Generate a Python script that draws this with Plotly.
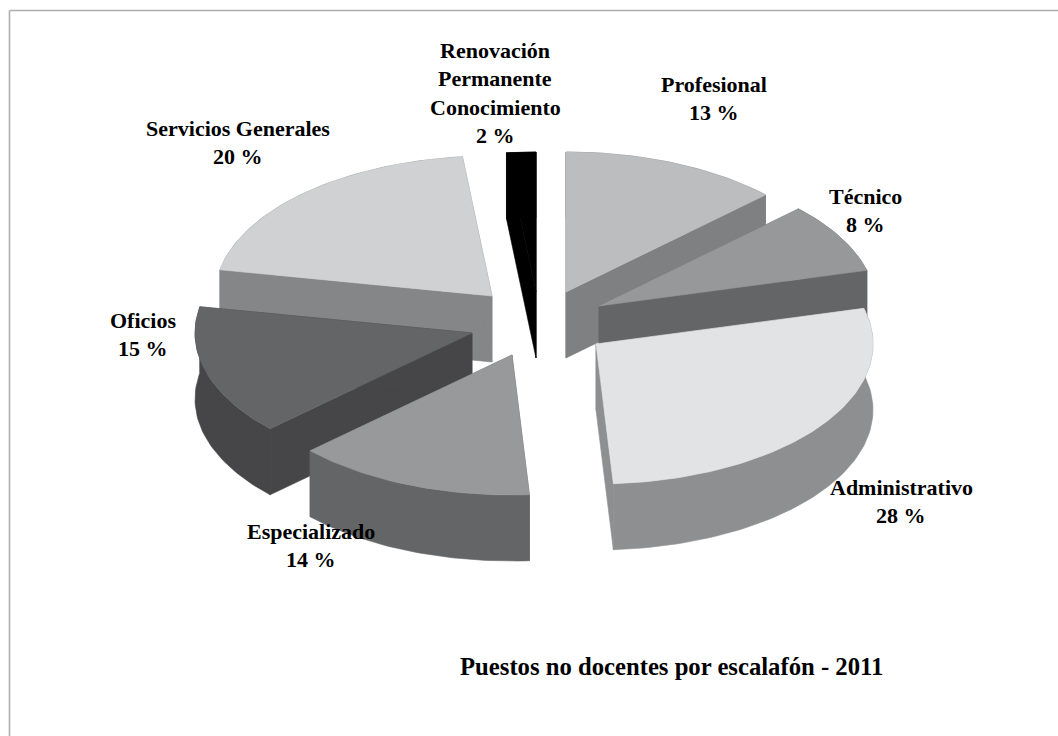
import math
import plotly.graph_objects as go

categories = ["Profesional", "Técnico", "Administrativo", "Especializado",
              "Oficios", "Servicios Generales", "Renovación Permanente Conocimiento"]
shares = [12.8, 8.1, 28.1, 14.0, 15.0, 20.3, 1.7]
label_lines = [["Profesional"], ["Técnico"], ["Administrativo"], ["Especializado"],
               ["Oficios"], ["Servicios Generales"], ["Renovación", "Permanente", "Conocimiento"]]
title_text = "Puestos no docentes por escalafón - 2011"

top_colors = ["#bcbdbf", "#97989a", "#e2e3e5", "#98999b", "#646567", "#d0d1d3", "#000000"]
side_colors = ["#7f8081", "#646566", "#8e8f91", "#646566", "#464648", "#858688", "#000000"]

# pie geometry, in the 1058x736 frame
RX, RY, DEPTH = 277, 140, 66
CENTER = (536, 322)
explode = [(30, -30), (63, -16), (60, 22), (-24, 33), (-64, 11), (-44, -26), (0, -30)]
label_pos = [(714, 84), (865, 196), (901, 487), (311, 531), (143, 320), (238, 128), (495, 50)]
draw_order = [5, 6, 0, 1, 4, 3, 2]
FONT = "Liberation Serif"
LINE = 28.5


def poly(fig, xs, ys, color):
    fig.add_trace(go.Scatter(x=xs, y=ys, mode="lines", fill="toself", fillcolor=color,
                             line=dict(color=color, width=0.6), hoverinfo="skip",
                             showlegend=False))


fig = go.Figure()
total = sum(shares)
starts = [sum(shares[:i]) / total * 2 * math.pi for i in range(len(shares))]
ends = [sum(shares[:i + 1]) / total * 2 * math.pi for i in range(len(shares))]

for i in draw_order:
    ax, ay = CENTER[0] + explode[i][0], CENTER[1] + explode[i][1]
    n = max(6, int(shares[i] * 3))
    th = [starts[i] + (ends[i] - starts[i]) * k / n for k in range(n + 1)]
    ex = [ax + RX * math.sin(t) for t in th]
    ey = [ay - RY * math.cos(t) for t in th]
    # two cut faces
    for k in (0, -1):
        poly(fig, [ax, ex[k], ex[k], ax, ax],
             [ay, ey[k], ey[k] + DEPTH, ay + DEPTH, ay], side_colors[i])
    # outer rim
    poly(fig, ex + ex[::-1] + [ex[0]],
         ey + [y + DEPTH for y in ey[::-1]] + [ey[0]], side_colors[i])
    # top face
    poly(fig, [ax] + ex + [ax], [ay] + ey + [ay], top_colors[i])

annotations = []
for i, lines in enumerate(label_lines):
    x, y = label_pos[i]
    texts = lines + [f"{round(shares[i])} %"]
    for j, t in enumerate(texts):
        annotations.append(dict(x=x, y=y + j * LINE, text=f"<b>{t}</b>", showarrow=False,
                                xanchor="center", yanchor="middle",
                                font=dict(family=FONT, size=22, color="#000000")))
annotations.append(dict(x=671, y=666, text=f"<b>{title_text}</b>", showarrow=False,
                        xanchor="center", yanchor="middle",
                        font=dict(family=FONT, size=24.7, color="#000000")))

fig.update_layout(
    width=1058, height=736, margin=dict(l=0, r=0, t=0, b=0),
    paper_bgcolor="#ffffff", plot_bgcolor="#ffffff", showlegend=False,
    xaxis=dict(range=[0, 1058], visible=False, fixedrange=True),
    yaxis=dict(range=[736, 0], visible=False, fixedrange=True),
    annotations=annotations,
    shapes=[dict(type="line", x0=9.5, x1=9.5, y0=736, y1=10.5, line=dict(color="#adadad", width=1.6)),
            dict(type="line", x0=9.5, x1=1058, y0=10.5, y1=10.5, line=dict(color="#adadad", width=1.6))],
)
fig.write_html("out.html", config=dict(displayModeBar=False),
               post_script="document.body.style.margin='0';document.documentElement.style.overflow='hidden';")
